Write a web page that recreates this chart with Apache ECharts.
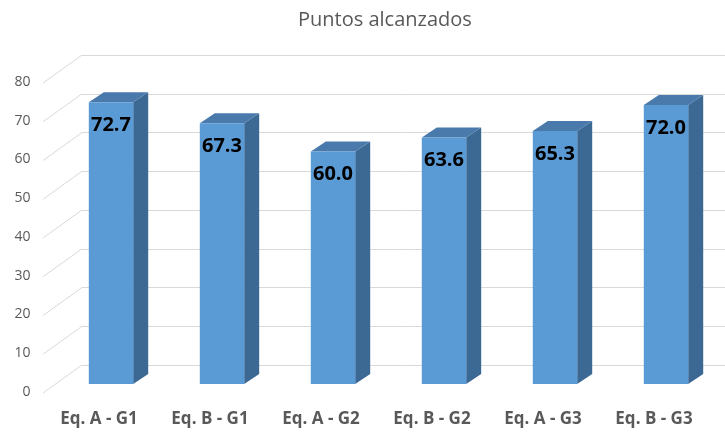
<!DOCTYPE html>
<html>
<head>
<meta charset="utf-8">
<script src="https://cdn.jsdelivr.net/npm/echarts@6/dist/echarts.min.js"></script>
<style>
  html, body { margin: 0; padding: 0; background: #fff; }
  #chart { width: 725px; height: 432px; }
</style>
</head>
<body>
<div id="chart"></div>
<script>
// datos del grafico
var categories = ["Eq. A - G1", "Eq. B - G1", "Eq. A - G2", "Eq. B - G2", "Eq. A - G3", "Eq. B - G3"];
var puntos = [72.7, 67.3, 60.0, 63.6, 65.3, 72.0];
var yTicks = [0, 10, 20, 30, 40, 50, 60, 70, 80];

var DEPTH_X = 15, DEPTH_Y = -10; // profundidad de la barra
var WALL_X = -39, WALL_Y = 28; // diagonal pared -> plano frontal
var gray = "#595959";

var myChart = echarts.init(document.getElementById("chart"));

var option = {
  animation: false,
  title: {
    text: "Puntos alcanzados",
    left: 293,
    top: 5,
    textStyle: { color: gray, fontSize: 20, fontWeight: "normal", fontFamily: "Open Sans" },
  },
  grid: [
    // 0: plano frontal de las barras
    { left: 55.5, right: 3.5, top: 74, bottom: 48 },
    // 1: pared del fondo
    { left: 82, right: 0, top: 55, bottom: 67 },
    // 2: plano de las etiquetas
    { left: 43.5, right: 15.5, top: 82, bottom: 40 },
  ],
  xAxis: [
    { gridIndex: 0, type: "category", data: categories, show: false },
    { gridIndex: 1, type: "value", min: 0, max: 1, show: false },
    {
      gridIndex: 2,
      type: "category",
      data: categories,
      axisLine: { show: false },
      axisTick: { show: false },
      axisLabel: {
        margin: 19,
        color: gray,
        fontSize: 17,
        fontWeight: "bold",
        fontFamily: "Open Sans",
      },
    },
  ],
  yAxis: [
    { gridIndex: 0, type: "value", min: 0, max: 80, interval: 10, show: false },
    {
      gridIndex: 1,
      type: "value",
      min: 0,
      max: 80,
      interval: 10,
      axisLine: { show: false },
      axisTick: { show: false },
      axisLabel: { show: false },
      splitLine: { lineStyle: { color: "#d9d9d9", width: 1 } },
    },
    {
      gridIndex: 2,
      type: "value",
      min: 0,
      max: 80,
      interval: 10,
      axisLine: { show: false },
      axisTick: { show: false },
      splitLine: { show: false },
      axisLabel: { margin: 13, color: gray, fontSize: 14, fontFamily: "Open Sans" },
    },
  ],
  series: [
    {
      // diagonales de la pared lateral
      type: "custom",
      xAxisIndex: 1,
      yAxisIndex: 1,
      silent: true,
      data: yTicks.map(function (v) { return [0, v]; }),
      renderItem: function (params, api) {
        var p = api.coord([api.value(0), api.value(1)]);
        return {
          type: "line",
          shape: { x1: p[0], y1: p[1], x2: p[0] + WALL_X, y2: p[1] + WALL_Y },
          style: { stroke: "#d9d9d9", lineWidth: 1 },
        };
      },
    },
    {
      // barras 3D
      type: "custom",
      xAxisIndex: 0,
      yAxisIndex: 0,
      z: 5,
      data: puntos.map(function (v, i) { return [i, v]; }),
      renderItem: function (params, api) {
        var top = api.coord([api.value(0), api.value(1)]);
        var base = api.coord([api.value(0), 0]);
        var w = api.size([1, 0])[0] * 0.4;
        var x = top[0] - w / 2;
        var y = top[1];
        var b = base[1];
        return {
          type: "group",
          children: [
            {
              type: "polygon",
              shape: { points: [[x + w, y], [x + w + DEPTH_X, y + DEPTH_Y], [x + w + DEPTH_X, b + DEPTH_Y], [x + w, b]] },
              style: { fill: "#3c6894" },
            },
            {
              type: "polygon",
              shape: { points: [[x, y], [x + DEPTH_X, y + DEPTH_Y], [x + w + DEPTH_X, y + DEPTH_Y], [x + w, y]] },
              style: { fill: "#4a79ab" },
            },
            {
              type: "rect",
              shape: { x: x, y: y, width: w, height: b - y },
              style: { fill: "#5b9bd5" },
            },
            {
              type: "text",
              style: {
                x: top[0],
                y: y + 23,
                text: api.value(1).toFixed(1),
                align: "center",
                verticalAlign: "middle",
                fill: "#000",
                font: "bold 20px 'Open Sans'",
              },
            },
          ],
        };
      },
    },
  ],
};

option && myChart.setOption(option);
</script>
</body>
</html>
